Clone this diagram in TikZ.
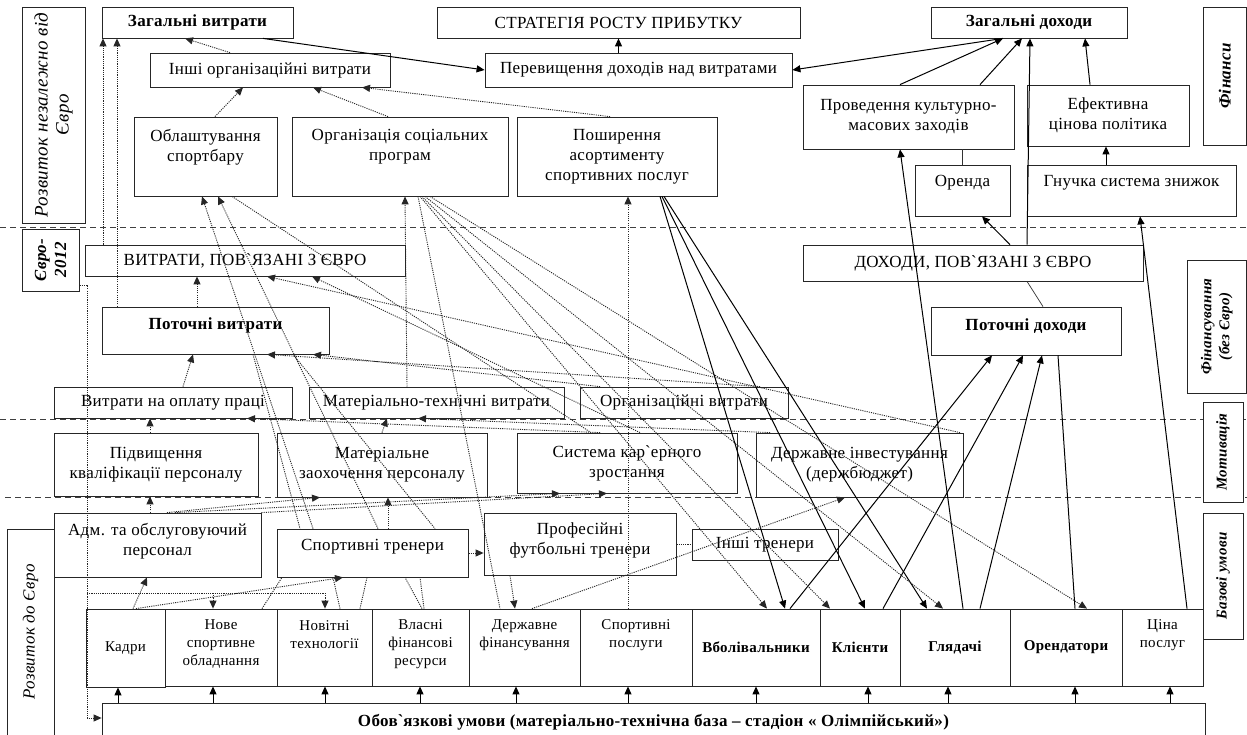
\documentclass[tikz,border=0pt]{standalone}
\usepackage{fontspec}
\setmainfont{Liberation Serif}[LetterSpace=2]
\usetikzlibrary{arrows.meta}
\newcommand\fsN{\fontsize{17}{20}\selectfont}
\newcommand\fsS{\fontsize{15}{18}\selectfont}
\newcommand\rs[1]{\\[#1]\mbox{}}
\newcommand\bx[7]{%
  \pgfmathsetmacro\bxcx{(#2+#4)/2}%
  \pgfmathsetmacro\bxcy{(#3+#5)/2}%
  \pgfmathsetmacro\bxw{#4-#2}%
  \pgfmathsetmacro\bxh{#5-#3}%
  \node[box,minimum width=\bxw pt,minimum height=\bxh pt,#6] (#1) at (\bxcx,\bxcy) {#7};}
\begin{document}
\begin{tikzpicture}[x=1pt,y=-1pt,
  box/.style={draw=black!85, line width=0.8pt, fill=white, inner sep=1pt, align=center, font=\fsN},
  sl/.style={draw=black, line width=1pt},
  dl/.style={draw=black!85, line width=0.9pt, dash pattern=on 1.1pt off 1.1pt},
  ar/.style={-{Triangle[length=8pt,width=7pt]}},
  sep/.style={draw=black!75, line width=1pt, dash pattern=on 6pt off 4pt},
  rot/.style={rotate=90, align=center, inner sep=0pt}]
\useasboundingbox (0,0) rectangle (1247,735);
\fill[white] (0,0) rectangle (1247,735);
% separators
\draw[sep] (0,228) -- (1247,228);
\draw[sep] (0,419) -- (1247,419);
\draw[sep] (5,497) -- (1247,497);
% boxes
\bx{zv}{102}{7}{293}{38}{font=\bfseries\fsN}{Загальні витрати}
\bx{strat}{437}{7}{800}{38}{}{СТРАТЕГІЯ РОСТУ ПРИБУТКУ}
\bx{zd}{931}{7}{1127}{38}{font=\bfseries\fsN}{Загальні доходи}
\bx{finb1}{1203}{7}{1246.5}{145}{}{}
\node[rot,font=\bfseries\itshape\fsN] (fint) at (finb1.center) {Фінанси};
\bx{rnb}{22}{7}{85}{223}{}{}
\node[rot,font=\itshape\fontsize{19}{21}\selectfont] (rnt) at (rnb.center) {Розвиток незалежно від\\Євро};
\bx{ior}{150}{53}{390}{87}{}{Інші організаційні витрати}
\bx{perev}{485}{53}{792}{87}{}{Перевищення доходів над витратами}
\bx{obl}{134}{117}{277}{196}{}{Облаштування\\спортбару\rs{2.7pt}}
\bx{org}{292}{117}{508}{196}{}{Організація соціальних\\програм\rs{2.7pt}}
\bx{posh}{517}{117}{717}{196}{}{Поширення\\асортименту\\спортивних послуг}
\bx{prov}{803}{85}{1014}{149}{}{Проведення культурно-\\масових заходів}
\bx{efek}{1027}{85}{1189}{146}{}{Ефективна\\цінова політика}
\bx{orenda}{915}{165}{1010}{216}{}{Оренда\rs{-1.3pt}}
\bx{gnuch}{1027}{165}{1236}{216}{}{Гнучка система знижок\rs{-1.3pt}}
\bx{eurob}{22}{229}{79}{291}{}{}
\node[rot,font=\bfseries\itshape\fsN] (eurot) at (eurob.center) {Євро-\\2012};
\bx{vytr}{85}{245}{405}{276}{}{ВИТРАТИ, ПОВ\textasciigrave ЯЗАНІ З ЄВРО}
\bx{dokh}{803}{245}{1143}{281}{}{ДОХОДИ, ПОВ\textasciigrave ЯЗАНІ З ЄВРО}
\bx{finsb}{1187}{260}{1246.5}{393}{}{}
\node[rot,font=\bfseries\itshape\fsS] (finst) at (finsb.center) {Фінансування\\(без Євро)};
\bx{potv}{102}{307}{329}{354}{font=\bfseries\fsN}{Поточні витрати\rs{-6.3pt}}
\bx{potd}{931}{307}{1121}{355}{font=\bfseries\fsN}{Поточні доходи\rs{-6.3pt}}
\bx{opl}{54}{387}{292}{418}{}{Витрати на оплату праці}
\bx{mat}{309}{387}{564}{418}{}{Матеріально-технічні витрати}
\bx{orgv}{580}{387}{788}{418}{}{Організаційні витрати}
\bx{motb}{1203}{402}{1243}{502}{}{}
\node[rot,font=\bfseries\itshape\fsS] (mott) at (motb.center) {Мотивація};
\bx{pidv}{54}{433}{258}{496}{}{Підвищення\\кваліфікації персоналу}
\bx{zaoh}{277}{433}{487}{497}{}{Матеріальне\\заохочення персоналу}
\bx{kar}{517}{433}{737}{493}{}{Система кар\textasciigrave ерного\\зростання}
\bx{derzh}{756}{433}{963}{497}{}{Державне інвестування\\(держбюджет)}
\bx{bazb}{1203}{513}{1243}{639}{}{}
\node[rot,font=\bfseries\itshape\fsS] (bazt) at (bazb.center) {Базові умови};
\bx{rdob}{7}{529}{54}{740}{}{}
\node[rot,font=\itshape\fsN] (rdot) at (30.5,632) {Розвиток до Євро};
\bx{adm}{54}{513}{261}{577}{}{Адм. та обслуговуючий\\персонал\rs{-8.3pt}}
\bx{trener}{277}{529}{468}{577}{}{Спортивні тренери\rs{-4.3pt}}
\bx{prof}{484}{513}{676}{575}{}{Професійні\\футбольні тренери\rs{-8.3pt}}
\bx{insh}{692}{529}{838}{560}{}{Інші тренери}
\bx{kadry}{86}{609}{165}{687}{font=\fsS}{Кадри}
\bx{nove}{165}{609}{277}{686}{font=\fsS}{Нове\\спортивне\\обладнання\rs{-7.7pt}}
\bx{novit}{277}{609}{372}{686}{font=\fsS}{Новітні\\технології\rs{7pt}}
\bx{vlas}{372}{609}{469}{686}{font=\fsS}{Власні\\фінансові\\ресурси\rs{-7.7pt}}
\bx{derzhf}{469}{609}{580}{686}{font=\fsS}{Державне\\фінансування\rs{10.3pt}}
\bx{sport}{580}{609}{692}{686}{font=\fsS}{Спортивні\\послуги\rs{10.3pt}}
\bx{vbol}{692}{609}{820}{686}{font=\bfseries\fsS}{Вболівальники}
\bx{klie}{820}{609}{900}{686}{font=\bfseries\fsS}{Клієнти}
\bx{glya}{900}{609}{1010}{686}{font=\bfseries\fsS}{Глядачі}
\bx{oren2}{1010}{609}{1122}{686}{font=\bfseries\fsS}{Орендатори}
\bx{cina}{1122}{609}{1203}{686}{font=\fsS}{Ціна\\послуг\rs{10.3pt}}
\bx{base}{102}{703}{1205}{742}{font=\bfseries\fsN}{Обов\textasciigrave язкові умови (матеріально-технічна база – стадіон « Олімпійський»)}
% solid connectors
\draw[sl,ar] (zv.south -| 263,0) -- (perev.west);
\draw[sl,ar] (zd.south -| 1003,0) -- (perev.east);
\draw[sl,ar] (prov.north -| 900,0) -- (zd.south -| 1003,0);
\draw[sl,ar] (prov.north -| 980,0) -- (zd.south -| 1022,0);
\draw[sl,ar] (dokh.north -| 1027,0) -- (zd.south -| 1030,0);
\draw[sl,ar] (efek.north -| 1090,0) -- (zd.south -| 1085,0);
\draw[sl,ar] (gnuch.north -| 1106,0) -- (efek.south -| 1106,0);
\draw[sl,ar] (strat.south |- perev.north) -- (strat.south);
\draw[draw=black!80, line width=0.7pt] (prov.south -| 962,0) -- (orenda.north -| 962,0);
\draw[sl,ar] (dokh.north -| 1010,0) -- (orenda.south -| 982,0);
\draw[sl,ar] (glya.north -| 963,0) -- (prov.south -| 900,0);
\draw[draw=black!80, line width=0.7pt] (dokh.south -| 1027,0) -- (potd.north -| 1043,0);
\draw[sl,ar] (vbol.north -| 790,0) -- (potd.south -| 992,0);
\draw[sl,ar] (klie.north -| 883,0) -- (potd.south -| 1023,0);
\draw[sl,ar] (glya.north -| 980,0) -- (potd.south -| 1042,0);
\draw[sl] (oren2.north -| 1075,0) -- (potd.south -| 1058,0);
\draw[sl,ar] (cina.north -| 1187,0) -- (gnuch.south -| 1140,0);
\draw[sl,ar] (posh.south -| 660,0) -- (vbol.north -| 785,0);
\draw[sl,ar] (posh.south -| 662,0) -- (klie.north -| 865,0);
\draw[sl,ar] (posh.south -| 664,0) -- (glya.north -| 927,0);
\foreach \n/\xx in {kadry/118, nove/213, novit/325, vlas/420, derzhf/516, sport/628, vbol/756, klie/868, glya/948, oren2/1075, cina/1170}
  \draw[sl,ar] (base.north -| \xx,0) -- (\n.south -| \xx,0);
% dotted connectors
\coordinate (t1) at (87,285);
\coordinate (t2) at (87,718);
\coordinate (t3) at (87,593);
\coordinate (t4) at (325,593);
\draw[dl,ar] (eurob.east |- t1) -- (t1) -- (t2) -- (base.west |- t2);
\draw[dl] (t3) -- (t4);
\draw[dl,ar] (t3 -| 213,0) -- (nove.north -| 213,0);
\draw[dl,ar] (t4) -- (novit.north -| 325,0);
\draw[dl,ar] (ior.north -| 230,0) -- (zv.south -| 185,0);
\draw[dl,ar] (obl.north -| 215,0) -- (ior.south -| 243,0);
\draw[dl,ar] (org.north -| 388,0) -- (ior.south -| 313,0);
\draw[dl,ar] (posh.north -| 610,0) -- (ior.south -| 362,0);
\draw[dl,ar] (vytr.north -| 103,0) -- (zv.south -| 103,0);
\draw[dl,ar] (potv.north -| 117,0) -- (zv.south -| 117,0);
\draw[dl,ar] (potv.north -| 197,0) -- (vytr.south -| 197,0);
\draw[dl,ar] (opl.north -| 183,0) -- (potv.south -| 193,0);
\draw[dl,ar] (orgv.north -| 760,0) -- (potv.south -| 267,0);
\draw[dl,ar] (orgv.north -| 600,0) -- (potv.south -| 313,0);
\draw[dl] (potv.south -| 253,0) -- (trener.north -| 300,0);
\draw[dl] (potv.south -| 293,0) -- (trener.north -| 435,0);
\draw[dl,ar] (derzh.north -| 960,0) -- (vytr.south -| 267,0);
\draw[dl,ar] (kar.north -| 640,0) -- (vytr.south -| 312,0);
\draw[dl,ar] (pidv.north -| 150,0) -- (opl.south -| 150,0);
\draw[dl,ar] (kar.north -| 600,0) -- (opl.south -| 247,0);
\draw[dl,ar] (zaoh.north -| 382,0) -- (mat.south -| 387,0);
\draw[dl,ar] (derzh.north -| 770,0) -- (mat.south -| 418,0);
\draw[dl,ar] (adm.north -| 150,0) -- (pidv.south -| 150,0);
\draw[dl,ar] (adm.north -| 167,0) -- (zaoh.south -| 320,0);
\draw[dl,ar] (adm.north -| 175,0) -- (kar.south -| 560,0);
\draw[dl,ar] (adm.north east) -- (kar.south -| 607,0);
\draw[dl,ar] (trener.north -| 388,0) -- (zaoh.south -| 388,0);
\draw[dl,ar] (trener.east) -- (prof.west |- trener.east);
\draw[dl] (prof.east |- insh.west) -- (insh.west);
\draw[dl,ar] (prof.south -| 510,0) -- (derzhf.north -| 515,0);
\draw[dl,ar] (kadry.north -| 133,0) -- (adm.south -| 147,0);
\draw[dl,ar] (kadry.north -| 136,0) -- (trener.south -| 343,0);
\draw[dl] (nove.north -| 262,0) -- (trener.south -| 282,0);
\draw[dl] (novit.north -| 340,0) -- (trener.south -| 333,0);
\draw[dl] (novit.north -| 360,0) -- (trener.south -| 367,0);
\draw[dl] (vlas.north -| 422,0) -- (trener.south -| 405,0);
\draw[dl] (vlas.north -| 424,0) -- (trener.south -| 420,0);
\draw[dl,ar] (derzhf.north -| 532,0) -- (derzh.south -| 845,0);
\draw[dl,ar] (sport.north -| 628,0) -- (posh.south -| 628,0);
\draw[dl,ar] (mat.north -| 407,0) -- (org.south -| 405,0);
\draw[dl,ar] (org.south -| 420,0) -- (vbol.north -| 767,0);
\draw[dl,ar] (org.south -| 422,0) -- (klie.north -| 830,0);
\draw[dl,ar] (org.south -| 425,0) -- (glya.north -| 943,0);
\draw[dl,ar] (org.south -| 430,0) -- (oren2.north -| 1087,0);
\draw[dl] (org.south -| 418,0) -- (derzhf.north -| 500,0);
\draw[dl,ar] (trener.north -| 313,0) -- (obl.south -| 202,0);
\draw[dl,ar] (trener.north -| 378,0) -- (obl.south -| 218,0);
\draw[dl] (obl.south -| 232,0) -- (kar.north -| 591,0);
\end{tikzpicture}
\end{document}
